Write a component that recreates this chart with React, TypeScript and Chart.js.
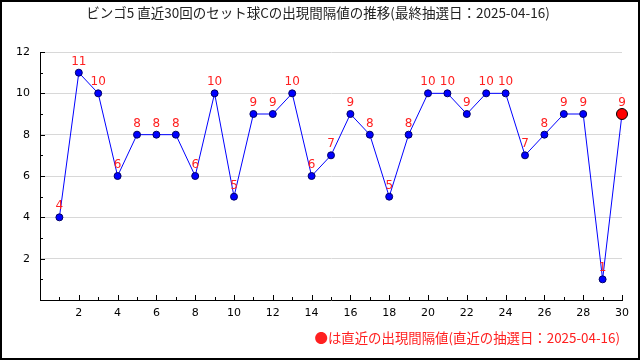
import React, { useEffect, useRef } from "react";
import { Chart, registerables } from "chart.js";

Chart.register(...registerables);

const TITLE = "ビンゴ5 直近30回のセット球Cの出現間隔値の推移(最終抽選日：2025-04-16)";
const NOTE = "●は直近の出現間隔値(直近の抽選日：2025-04-16)";
const draws = [1,2,3,4,5,6,7,8,9,10,11,12,13,14,15,16,17,18,19,20,21,22,23,24,25,26,27,28,29,30];
const intervals = [4,11,10,6,8,8,8,6,10,5,9,9,10,6,7,9,8,5,8,10,10,9,10,10,7,8,9,9,1,9];
const X_MIN = 0, X_MAX = 30, Y_MIN = 0, Y_MAX = 12;

const decorPlugin = {
  id: "decor",
  afterDraw(chart: any) {
    const ctx = chart.ctx;
    const xs = chart.scales.x, ys = chart.scales.y;
    const ca = chart.chartArea;
    ctx.save();
    // inward ticks
    ctx.strokeStyle = "#000";
    ctx.lineWidth = 1;
    ctx.beginPath();
    for (let v = X_MIN + 1; v <= X_MAX; v++) {
      const px = Math.round(xs.getPixelForValue(v)) + 0.5;
      const len = v % 2 === 0 ? 5 : 3;
      ctx.moveTo(px, ca.bottom);
      ctx.lineTo(px, ca.bottom - len);
    }
    for (let v = Y_MIN + 1; v <= Y_MAX; v++) {
      const py = Math.round(ys.getPixelForValue(v)) + 0.5;
      const len = v % 2 === 0 ? 5 : 3;
      ctx.moveTo(ca.left, py);
      ctx.lineTo(ca.left + len, py);
    }
    ctx.stroke();
    // point labels
    const meta = chart.getDatasetMeta(0);
    ctx.fillStyle = "#ff2020";
    ctx.font = "12px 'DejaVu Sans'";
    ctx.textAlign = "center";
    ctx.textBaseline = "middle";
    meta.data.forEach((pt: any, i: number) => {
      ctx.fillText(String(intervals[i]), pt.x, pt.y - 11);
    });
    // title
    ctx.fillStyle = "#222";
    ctx.font = "13.5px 'Noto Sans CJK JP'";
    ctx.fillText(TITLE, 318, 13);
    // note
    ctx.fillStyle = "#ff2020";
    ctx.font = "13.4px 'Noto Sans CJK JP'";
    ctx.textAlign = "right";
    ctx.fillText(NOTE, 620, 338);
    // border
    ctx.strokeStyle = "#000";
    ctx.lineWidth = 2;
    ctx.strokeRect(1, 1, 638, 358);
    ctx.restore();
  },
};

export default function App() {
  const ref = useRef<HTMLCanvasElement>(null);
  useEffect(() => {
    document.body.style.margin = "0";
    const last = intervals.length - 1;
    const chart = new Chart(ref.current!, {
      type: "line",
      data: {
        datasets: [
          {
            data: draws.map((d, i) => ({ x: d, y: intervals[i] })),
            borderColor: "#0000ff",
            borderWidth: 1,
            pointBackgroundColor: intervals.map((_, i) => (i === last ? "#ff0000" : "#0000ff")),
            pointBorderColor: intervals.map((_, i) => (i === last ? "#000" : "#000066")),
            pointBorderWidth: 1,
            pointRadius: intervals.map((_, i) => (i === last ? 5.5 : 3.5)),
            tension: 0,
            clip: false,
          },
        ],
      },
      options: {
        animation: false,
        responsive: false,
        layout: { padding: { top: 52, right: 18, left: 0, bottom: 0 } },
        plugins: { legend: { display: false }, tooltip: { enabled: false }, title: { display: false } },
        scales: {
          x: {
            type: "linear",
            min: X_MIN,
            max: X_MAX,
            afterFit: (s: any) => { s.height = 60; },
            grid: { display: false, drawTicks: false },
            border: { display: true, color: "#000", width: 1 },
            ticks: {
              stepSize: 2,
              color: "#000",
              font: { family: "DejaVu Sans", size: 11 },
              padding: 7,
              maxRotation: 0,
              callback: (v: any) => (v === 0 ? "" : String(v)),
            },
          },
          y: {
            min: Y_MIN,
            max: Y_MAX,
            afterFit: (s: any) => { s.width = 40; },
            grid: { color: "#d8d8d8", drawTicks: false, lineWidth: (c: any) => (c.tick && c.tick.value === 0 ? 0 : 1) },
            border: { display: true, color: "#000", width: 1 },
            ticks: {
              stepSize: 2,
              color: "#000",
              font: { family: "DejaVu Sans", size: 11 },
              padding: 10,
              callback: (v: any) => (v === 0 ? "" : String(v)),
            },
          },
        },
      },
      plugins: [decorPlugin],
    });
    return () => chart.destroy();
  }, []);
  return <canvas ref={ref} width={640} height={360} style={{ display: "block", background: "#fff" }} />;
}
